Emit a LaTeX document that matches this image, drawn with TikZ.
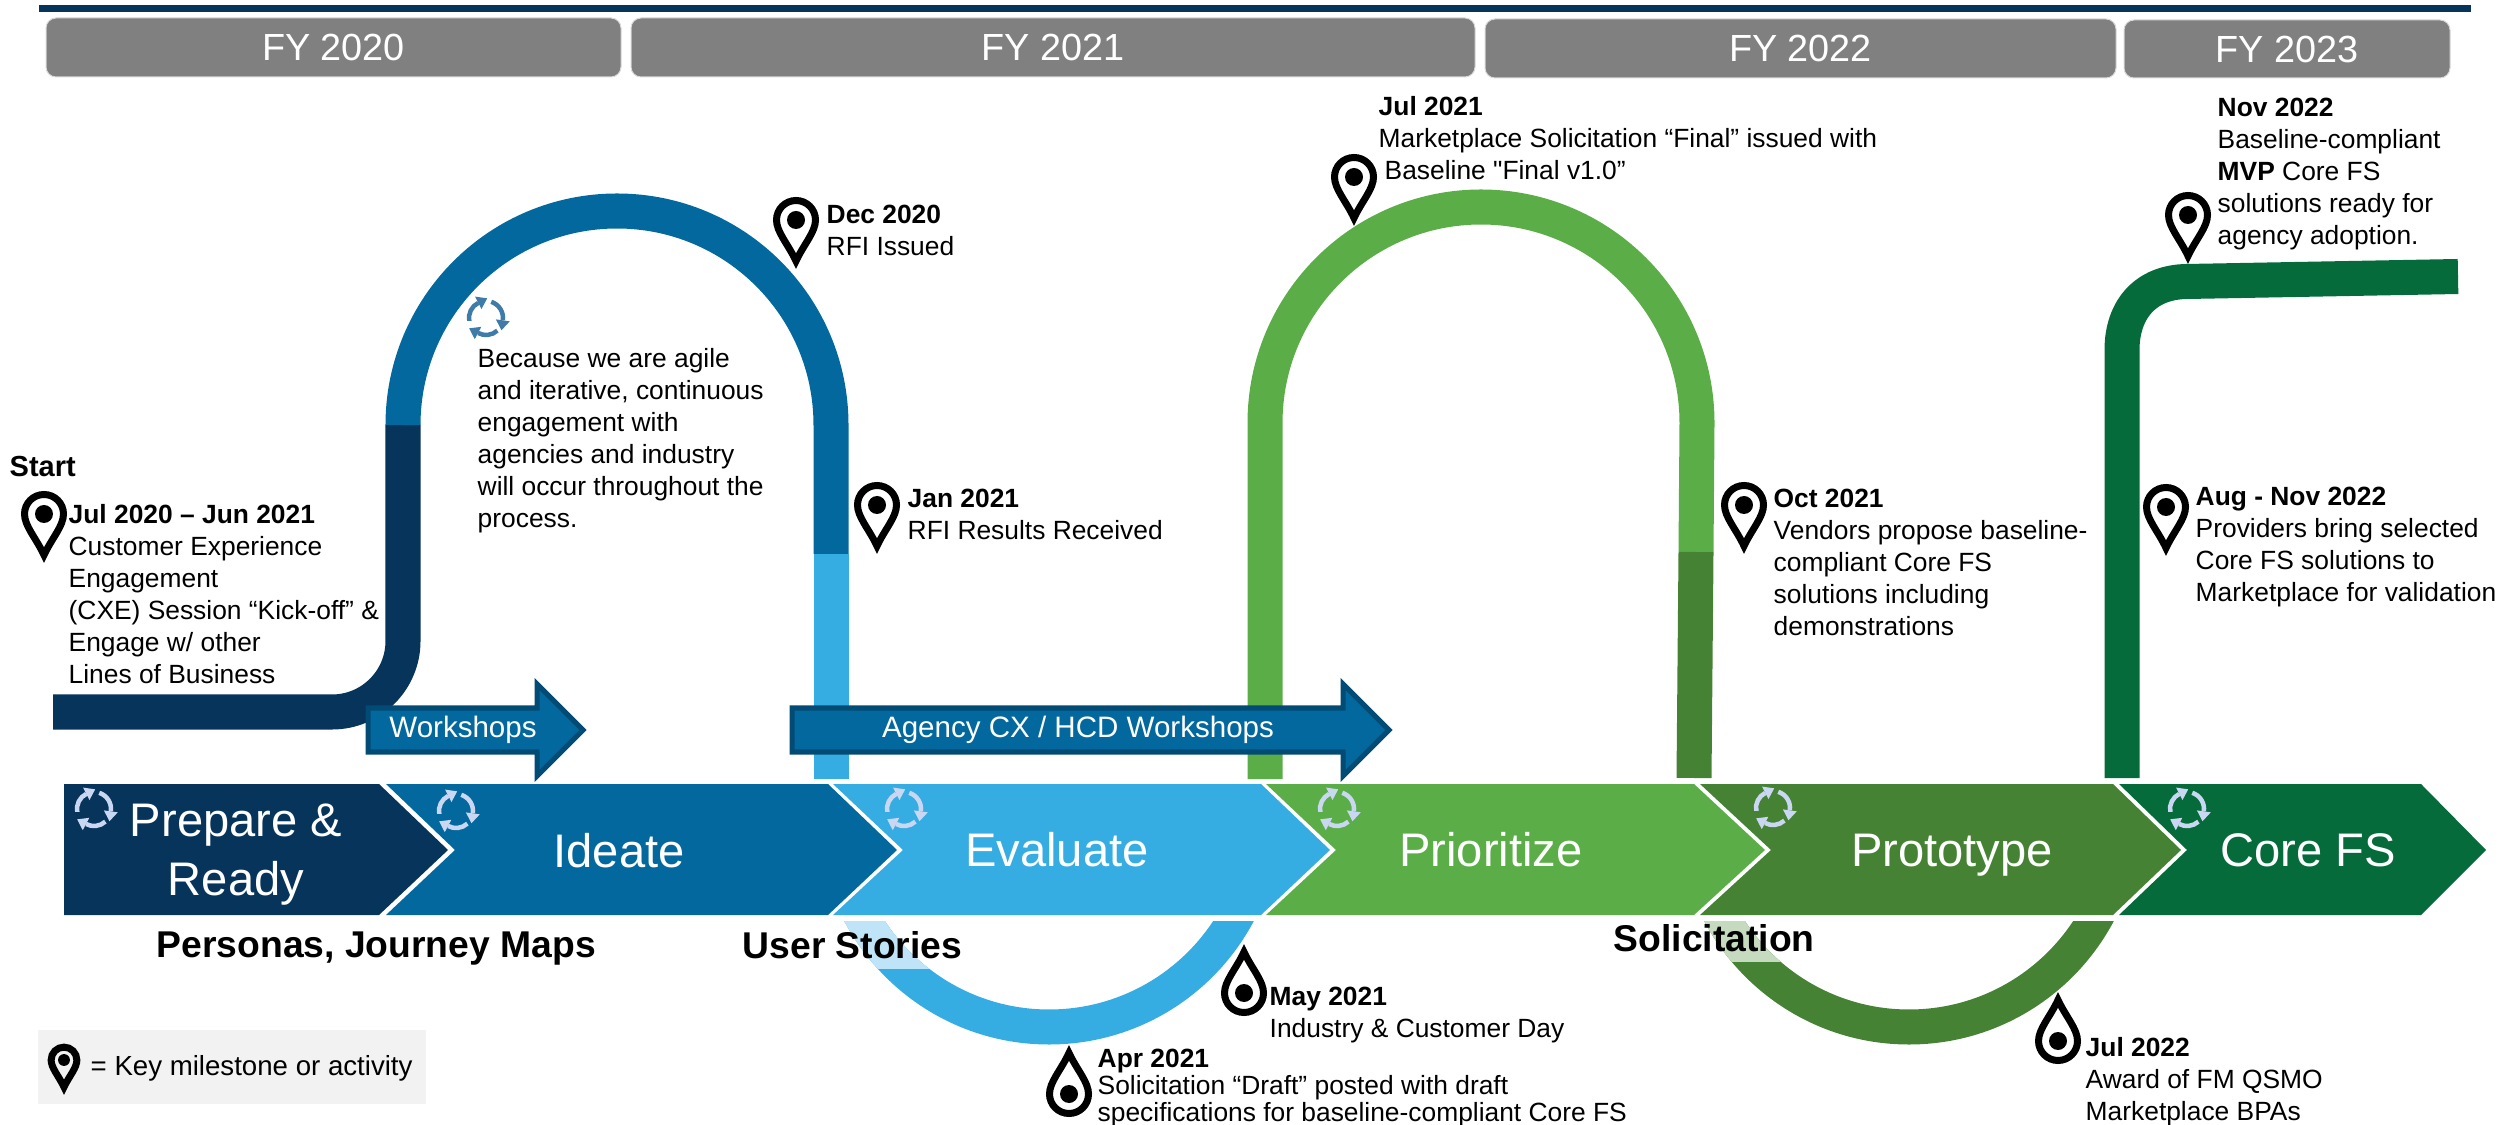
\documentclass[tikz,border=0pt]{standalone}
\usepackage{fontspec}
\setmainfont{Liberation Sans}
\newfontfamily\plainquote{Liberation Sans}
\usetikzlibrary{shapes,arrows}

\definecolor{navyfill}{HTML}{06345A}
\definecolor{bluefill}{HTML}{02689D}
\definecolor{skyfill}{HTML}{36ADE2}
\definecolor{skylight}{HTML}{C0E4F7}
\definecolor{grassfill}{HTML}{5BAE47}
\definecolor{mossfill}{HTML}{468234}
\definecolor{mosslight}{HTML}{C6DAC0}
\definecolor{pinefill}{HTML}{056B3A}
\definecolor{arrowedge}{HTML}{024B75}
\definecolor{cyclelight}{HTML}{C9D7F2}
\definecolor{cycledark}{HTML}{3F7BA8}

\tikzset{
    ribbon/.style={line width=0.35cm},
    yearbox/.style={fill=gray, draw=gray!30, line width=0.01cm, rounded corners=0.1cm},
    yearlabel/.style={white, font=\fontsize{10.75}{12}\selectfont},
    steplabel/.style={anchor=base, white, inner sep=0pt, align=center, font=\fontsize{13.4}{16.5}\selectfont},
    note/.style={anchor=base west, inner sep=0pt, align=left, font=\fontsize{7.5}{9.1}\selectfont},
    heading/.style={anchor=base west, inner sep=0pt, font=\fontsize{10.6}{12}\selectfont\bfseries},
    workshop/.style={fill=bluefill, draw=arrowedge, line width=0.05cm},
    workshoplabel/.style={white, inner sep=0pt, font=\fontsize{8.4}{10}\selectfont},
    mappin/.pic={
        \draw [black, line width=0.07cm, miter limit=10] (0,41) .. controls (-8,24) and (-19.5,12) .. (-19.5,0) arc [start angle=180, end angle=360, radius=19.5] .. controls (19.5,12) and (8,24) .. (0,41) -- cycle;
        \fill [black] (0,0) circle (9);
    },
    cyclemark/.pic={
        \foreach \a/\b in {-72/8, 48/118, 170/243} {
            \draw [pic actions, line width=0.045cm] (\a:17) arc [start angle=\a, end angle=\b, radius=17];
            \fill [pic actions, rotate=-\b] (10,0) -- (24,0) -- (17,10) -- cycle;
        }
    }
}

\begin{document}
\begin{tikzpicture}[x=0.01cm, y=-0.01cm]
    \useasboundingbox (0,0) rectangle (2509,1125);
    \fill [navyfill] (39,5) rectangle (2471,12);
    \foreach \xa/\xb/\ya/\yb/\yr in {46/621/18/77/2020, 631/1475/18/77/2021, 1485/2116/19/78/2022, 2124/2450/20/78/2023} {
        \draw [yearbox] (\xa,\ya) rectangle (\xb,\yb) node [midway, yearlabel] (fy\yr) {FY \yr};
    }

    % ribbon over the top
    \draw [ribbon, navyfill] (53,712) -- (332,712) arc [start angle=90, end angle=0, radius=71] -- (403,425);
    \draw [ribbon, bluefill] (403,425) arc [start angle=180, end angle=360, radius=214] -- (831,554);
    \draw [ribbon, skyfill] (831,554) -- (831,779);
    \draw [ribbon, grassfill] (1265,779) -- (1265,423) arc [start angle=180, end angle=360, radius=216] -- (1696,552);
    \draw [ribbon, mossfill] (1696,552) -- (1694,778);
    \draw [ribbon, pinefill] (2122,778) -- (2122,350) .. controls (2122,310) and (2145,282) .. (2187,281.5) -- (2458,276.5);

    % ribbon under the steps
    \begin{scope}
        \clip (800,921) rectangle (1300,1100);
        \draw [ribbon, skyfill] (1049,813) circle (214);
    \end{scope}
    \begin{scope}
        \clip (800,921) rectangle (1049,968);
        \draw [ribbon, skylight] (1049,813) circle (214);
    \end{scope}
    \begin{scope}
        \clip (1660,921) rectangle (2160,1100);
        \draw [ribbon, mossfill] (1909,813) circle (214);
    \end{scope}
    \begin{scope}
        \clip (1660,921) rectangle (1909,961);
        \draw [ribbon, mosslight] (1909,813) circle (214);
    \end{scope}

    % steps
    \fill [navyfill] (64,784) -- (379,784) -- (448,850) -- (379,915) -- (64,915) -- cycle;
    \foreach \xa/\xb/\xc/\xd/\col in {386/828/897/455/bluefill, 833/1261/1330/903/skyfill, 1266/1694/1765/1336/grassfill, 1700/2113/2181/1771/mossfill, 2119/2421/2486/2187/pinefill} {
        \fill [\col] (\xa,784) -- (\xb,784) -- (\xc,850) -- (\xb,915) -- (\xa,915) -- (\xd,850) -- cycle;
    }
    \node [steplabel] (prepare) at (236,895) {Prepare \&\\Ready};
    \node [steplabel] (ideate) at (619,867) {Ideate};
    \node [steplabel] (evaluate) at (1057,866) {Evaluate};
    \node [steplabel] (prioritize) at (1491,866) {Prioritize};
    \node [steplabel] (prototype) at (1952,866) {Prototype};
    \node [steplabel] (corefs) at (2308,866) {Core FS};
    \foreach \x/\y in {94/809, 456/811, 904/809, 1337/809, 1773/808, 2187/809} {
        \pic [cyclelight] at (\x,\y) {cyclemark};
    }
    \pic [cycledark] at (486,318) {cyclemark};

    % workshop arrows
    \draw [workshop] (368,708) -- (537,708) -- (537,684) -- (583,730) -- (537,776) -- (537,752) -- (368,752) -- cycle;
    \node [workshoplabel] (workshops) at (463,730) {Workshops};
    \draw [workshop] (792,708) -- (1343,708) -- (1343,684) -- (1389,730) -- (1343,776) -- (1343,752) -- (792,752) -- cycle;
    \node [workshoplabel] (agency) at (1078,730) {Agency CX / HCD Workshops};

    \node [heading] (personas) at (156,957) {Personas, Journey Maps};
    \node [heading] (stories) at (742,958) {User Stories};
    \node [heading] (solicitation) at (1613,951) {Solicitation};

    % pins and their notes
    \foreach \x/\y in {44/514, 796/220, 877/505, 1354/177, 1744/505, 2188/215, 2166/507} {
        \pic at (\x,\y) {mappin};
    }
    \foreach \x/\y in {1244/993, 1069/1094, 2058/1041} {
        \pic [rotate=180] at (\x,\y) {mappin};
    }
    \node [note, font=\fontsize{8.25}{10}\selectfont\bfseries] (start) at (9,477) {Start};
    \node [note] (kickoff) at (68,684) {\textbf{Jul 2020 – Jun 2021}\\Customer Experience\\Engagement\\(CXE) Session “Kick-off” \&\\Engage w/ other\\Lines of Business};
    \node [note] (agile) at (477,528) {Because we are agile\\and iterative, continuous\\engagement with\\agencies and industry\\will occur throughout the\\process.};
    \node [note] (rfi) at (826,256) {\textbf{Dec 2020}\\RFI Issued};
    \node [note] (results) at (907,540) {\textbf{Jan 2021}\\RFI Results Received};
    \node [note] (final) at (1378,180) {\textbf{Jul 2021}\\Marketplace Solicitation “Final” issued with\\\hspace*{1.7pt}Baseline {\plainquote"}Final v1.0”};
    \node [note] (vendors) at (1773,636) {\textbf{Oct 2021}\\Vendors propose baseline-\\compliant Core FS\\solutions including\\demonstrations};
    \node [note] (mvp) at (2217,245) {\textbf{Nov 2022}\\Baseline-compliant\\\textbf{MVP} Core FS\\solutions ready for\\agency adoption.};
    \node [note] (providers) at (2195,602) {\textbf{Aug - Nov 2022}\\Providers bring selected\\Core FS solutions to\\Marketplace for validation};
    \node [note] (industry) at (1269,1037) {\textbf{May 2021}\\Industry \& Customer Day};
    \node [note, font=\fontsize{7.5}{7.55}\selectfont] (draft) at (1097,1121) {\textbf{Apr 2021}\\Solicitation “Draft” posted with draft\\specifications for baseline-compliant Core FS};
    \node [note] (award) at (2085,1120) {\textbf{Jul 2022}\\Award of FM QSMO\\Marketplace BPAs};

    % key
    \fill [black!5] (38,1030) rectangle (426,1104);
    \pic [scale=0.66] at (64,1060) {mappin};
    \node [note, font=\fontsize{7.86}{9}\selectfont] (key) at (90,1075) {= Key milestone or activity};
\end{tikzpicture}
\end{document}
